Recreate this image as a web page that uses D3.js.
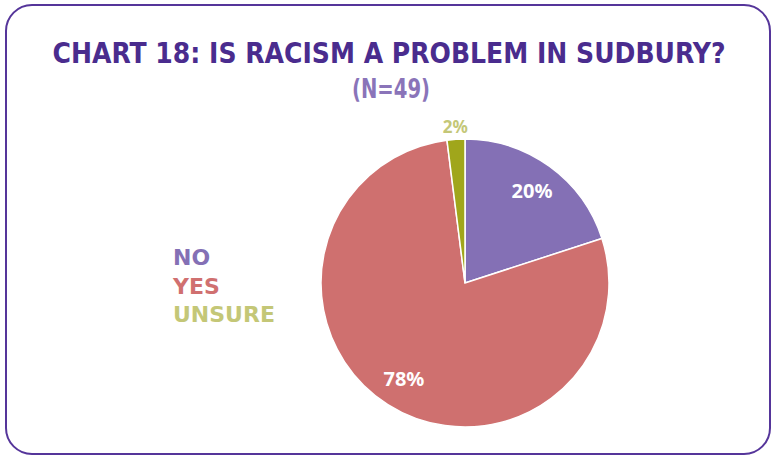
<!DOCTYPE html>
<html lang="en">
<head>
	<meta charset="UTF-8">
	<title>Chart 18</title>
	<script src="https://d3js.org/d3.v7.min.js"></script>
	<style>
		body { margin: 0; background: #fff; }
	</style>
</head>
<body>
	<svg width="776" height="457"></svg>
	<script>
		// data
		var categories = ["NO", "YES", "UNSURE"];
		var values = [20, 78, 2];
		var labels = ["20%", "78%", "2%"];
		var sliceColors = ["#8470b5", "#cf706f", "#a0a61b"];
		var legendColors = ["#8470b5", "#d07070", "#c4c777"];
		var labelColors = ["#ffffff", "#ffffff", "#c4c777"];

		var svg = d3.select("svg");

		// frame
		svg.append("rect")
			.attr("x", 6).attr("y", 5)
			.attr("width", 764).attr("height", 449)
			.attr("rx", 26).attr("ry", 26)
			.attr("fill", "#fff")
			.attr("stroke", "#55359a")
			.attr("stroke-width", 2);

		// title
		svg.append("text")
			.attr("x", 389).attr("y", 63)
			.attr("text-anchor", "middle")
			.attr("textLength", 673)
			.attr("lengthAdjust", "spacingAndGlyphs")
			.style("font-family", "'Liberation Sans Narrow', 'DejaVu Sans Condensed', 'Open Sans', sans-serif")
			.style("font-size", "28px")
			.style("font-weight", "bold")
			.style("fill", "#4a2c8e")
			.text("CHART 18: IS RACISM A PROBLEM IN SUDBURY?");

		svg.append("text")
			.attr("x", 391).attr("y", 98)
			.attr("text-anchor", "middle")
			.attr("textLength", 78)
			.attr("lengthAdjust", "spacingAndGlyphs")
			.style("font-family", "'Liberation Sans Narrow', 'DejaVu Sans Condensed', 'Open Sans', sans-serif")
			.style("font-size", "27px")
			.style("font-weight", "bold")
			.style("fill", "#8a74b9")
			.text("(N=49)");

		// pie
		var cx = 465, cy = 283, radius = 144;
		var pie = d3.pie().sort(null).value(function(d) { return d; });
		var arcs = pie(values);
		var arc = d3.arc().innerRadius(0).outerRadius(radius);

		var g = svg.append("g").attr("transform", "translate(" + cx + "," + cy + ")");

		g.selectAll("path")
			.data(arcs)
			.enter()
			.append("path")
			.attr("d", arc)
			.attr("fill", function(d, i) { return sliceColors[i]; })
			.attr("stroke", "#fff")
			.attr("stroke-width", 1.5);

		// slice labels
		var inner = d3.arc().innerRadius(114).outerRadius(114);
		var outer = d3.arc().innerRadius(radius + 12).outerRadius(radius + 12);

		g.selectAll(".lbl")
			.data(arcs)
			.enter()
			.append("text")
			.attr("class", "lbl")
			.attr("transform", function(d, i) {
				var p = (i == 2 ? outer : inner).centroid(d);
				return "translate(" + p[0] + "," + p[1] + ")";
			})
			.attr("text-anchor", "middle")
			.attr("dy", "0.36em")
			.style("font-family", "'Noto Sans', 'Open Sans', sans-serif")
			.style("font-size", function(d, i) { return i == 2 ? "17px" : "20px"; })
			.style("font-weight", "bold")
			.style("fill", function(d, i) { return labelColors[i]; })
			.text(function(d, i) { return labels[i]; });

		// legend
		svg.selectAll(".legend")
			.data(categories)
			.enter()
			.append("text")
			.attr("class", "legend")
			.attr("x", 173)
			.attr("y", function(d, i) { return 265 + i * 28.5; })
			.style("font-family", "'DejaVu Sans', sans-serif")
			.style("font-size", "22px")
			.style("font-weight", "bold")
			.style("fill", function(d, i) { return legendColors[i]; })
			.text(function(d) { return d; });
	</script>
</body>
</html>
